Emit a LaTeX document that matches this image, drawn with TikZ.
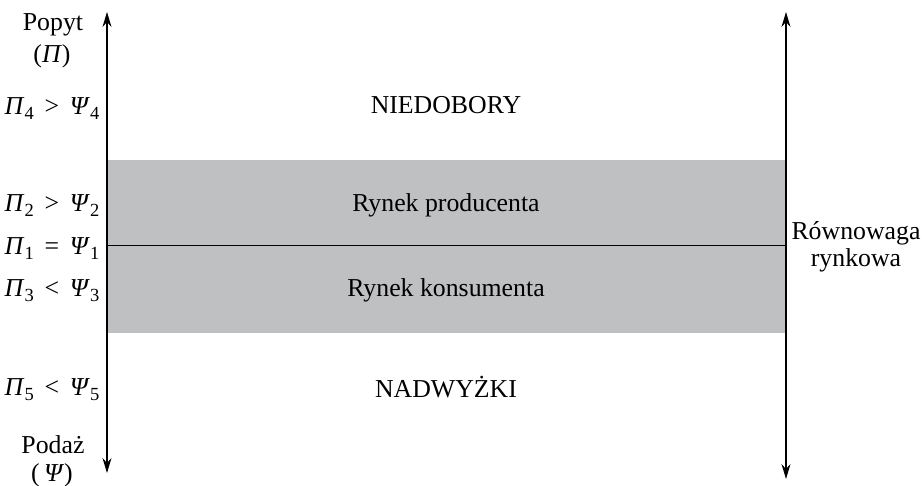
\documentclass[tikz,border=0pt]{standalone}
\usepackage{fontspec}
\setmainfont{Liberation Serif}
\usetikzlibrary{arrows.meta}
\definecolor{bandgray}{RGB}{191,192,194}
\newcommand\lowidx[1]{\raisebox{-0.18em}{\fontsize{18.5}{18.5}\selectfont #1}}
\newcommand\PI[1]{\textit{Π}\lowidx{#1}}
\newcommand\PS[1]{\textit{Ψ}\lowidx{#1}}
\tikzset{tip/.tip={Stealth[length=15pt,width=9pt,inset=5pt]}}
\begin{document}
\begin{tikzpicture}[x=1pt,y=-1pt,
  lbl/.style={anchor=base,inner sep=0pt,font=\fontsize{25.8}{30}\selectfont},
  axis/.style={line width=1.1pt,tip-tip},
  rel/.style={lbl}]
\useasboundingbox (0,0) rectangle (922,486);
% band
\fill[bandgray] (107,160) rectangle (786,333);
% axes
\coordinate (lt) at (107,12);
\coordinate (lb) at (107,473);
\coordinate (rt) at (786,12);
\coordinate (rb) at (786,479);
\coordinate (ml) at (107,246);
\coordinate (mr) at (786,246);
\draw[line width=1pt] (ml) -- (mr);
\draw[axis] (lb) -- (lt);
\draw[axis] (rb) -- (rt);
% left labels
\node[lbl] (popyt) at (53,31) {Popyt};
\node[lbl] (pi) at (52,63) {(\textit{Π})};
\node[rel] (r4) at (52,115) {\PI{4} \,>\, \PS{4}};
\node[rel] (r2) at (52,212) {\PI{2} \,>\, \PS{2}};
\node[rel] (r1) at (52,255) {\PI{1} \,=\, \PS{1}};
\node[rel] (r3) at (52,297) {\PI{3} \,<\, \PS{3}};
\node[rel] (r5) at (52,396) {\PI{5} \,<\, \PS{5}};
\node[lbl] (podaz) at (53,454) {Podaż};
\node[lbl] (psi) at (52,482) {(\,\textit{Ψ})};
% centre labels
\node[lbl] (nied) at (446,114) {NIEDOBORY};
\node[lbl] (prod) at (446,212) {Rynek producenta};
\node[lbl] (kons) at (446,297) {Rynek konsumenta};
\node[lbl] (nadw) at (446,398) {NADWYŻKI};
% right labels
\node[lbl] (rown) at (856,240) {Równowaga};
\node[lbl] (rynk) at (856,267) {rynkowa};
\end{tikzpicture}
\end{document}
